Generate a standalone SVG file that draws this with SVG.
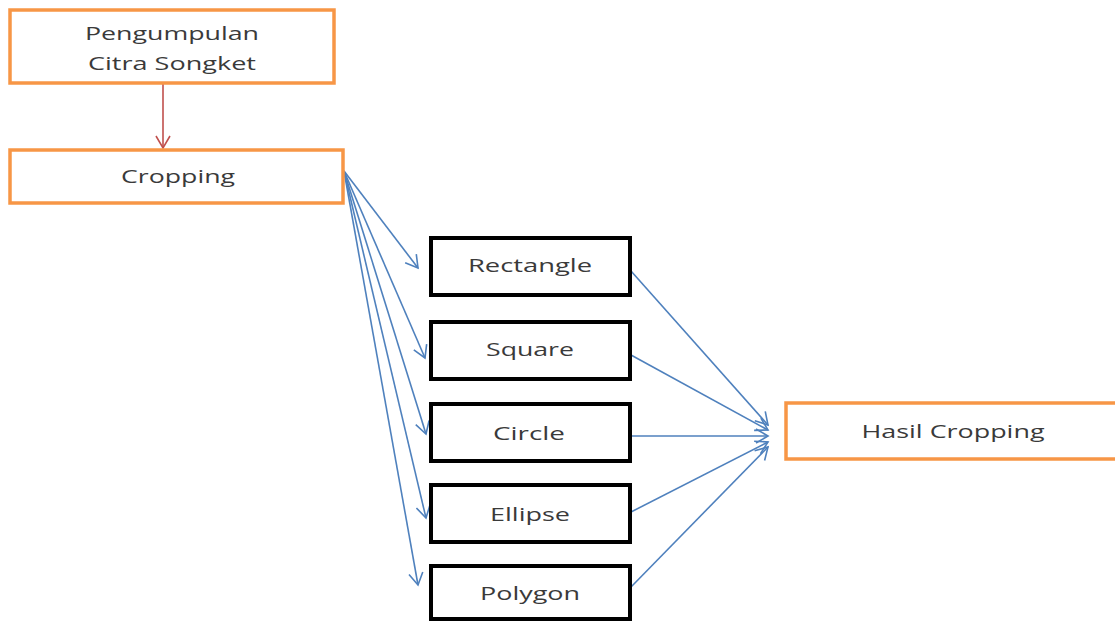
<svg xmlns="http://www.w3.org/2000/svg" width="1115" height="622" viewBox="0 0 1115 622">
<style>
.orange{fill:#fff;stroke:#F79646;stroke-width:3.5}
.black{fill:#fff;stroke:#000;stroke-width:4}
.t{font-family:"Open Sans","Liberation Sans",sans-serif;font-size:19px;fill:#3a3a3a;text-anchor:middle}
.blue{stroke:#4F81BD;stroke-width:1.6;fill:none;marker-end:url(#ab)}
.red{stroke:#C0504D;stroke-width:1.6;fill:none;marker-end:url(#ar)}
</style>
<defs>
<marker id="ab" markerWidth="16" markerHeight="16" refX="14" refY="8" orient="auto" markerUnits="userSpaceOnUse">
<path d="M2,1 L14,8 L2,15" fill="none" stroke="#4F81BD" stroke-width="1.6"/>
</marker>
<marker id="ar" markerWidth="16" markerHeight="16" refX="14" refY="8" orient="auto" markerUnits="userSpaceOnUse">
<path d="M2,1 L14,8 L2,15" fill="none" stroke="#C0504D" stroke-width="1.6"/>
</marker>
</defs>
<rect width="1115" height="622" fill="#fff"/>
<g id="connectors">
<line class="red" x1="163" y1="84" x2="163" y2="148"/>
<line class="blue" x1="344" y1="171" x2="418" y2="268"/>
<line class="blue" x1="344" y1="171" x2="425" y2="358"/>
<line class="blue" x1="344" y1="171" x2="426" y2="434"/>
<line class="blue" x1="344" y1="171" x2="426" y2="518"/>
<line class="blue" x1="344" y1="171" x2="418" y2="585"/>
<line class="blue" x1="631" y1="271" x2="768" y2="425"/>
<line class="blue" x1="631" y1="355" x2="768" y2="430"/>
<line class="blue" x1="631" y1="436" x2="768" y2="436"/>
<line class="blue" x1="631" y1="512" x2="768" y2="442"/>
<line class="blue" x1="631" y1="587" x2="768" y2="447"/>
</g>
<g id="pengumpulan">
<rect class="orange" x="10" y="10" width="324" height="73"/>
<text class="t" x="172" y="40" textLength="174" lengthAdjust="spacingAndGlyphs">Pengumpulan</text>
<text class="t" x="172" y="70" textLength="168" lengthAdjust="spacingAndGlyphs">Citra Songket</text>
</g>
<g id="cropping">
<rect class="orange" x="10" y="150" width="333" height="53"/>
<text class="t" x="178" y="183" textLength="114" lengthAdjust="spacingAndGlyphs">Cropping</text>
</g>
<g id="rectangle">
<rect class="black" x="431" y="238" width="199" height="57"/>
<text class="t" x="530" y="272" textLength="124" lengthAdjust="spacingAndGlyphs">Rectangle</text>
</g>
<g id="square">
<rect class="black" x="431" y="322" width="199" height="57"/>
<text class="t" x="530" y="356" textLength="88" lengthAdjust="spacingAndGlyphs">Square</text>
</g>
<g id="circle">
<rect class="black" x="431" y="404" width="199" height="57"/>
<text class="t" x="529" y="440" textLength="72" lengthAdjust="spacingAndGlyphs">Circle</text>
</g>
<g id="ellipse">
<rect class="black" x="431" y="485" width="199" height="57"/>
<text class="t" x="530" y="521" textLength="80" lengthAdjust="spacingAndGlyphs">Ellipse</text>
</g>
<g id="polygon">
<rect class="black" x="431" y="566" width="199" height="53"/>
<text class="t" x="530" y="600" textLength="100" lengthAdjust="spacingAndGlyphs">Polygon</text>
</g>
<g id="hasil">
<rect class="orange" x="786" y="403" width="340" height="56"/>
<text class="t" x="953" y="438" textLength="183" lengthAdjust="spacingAndGlyphs">Hasil Cropping</text>
</g>
</svg>
